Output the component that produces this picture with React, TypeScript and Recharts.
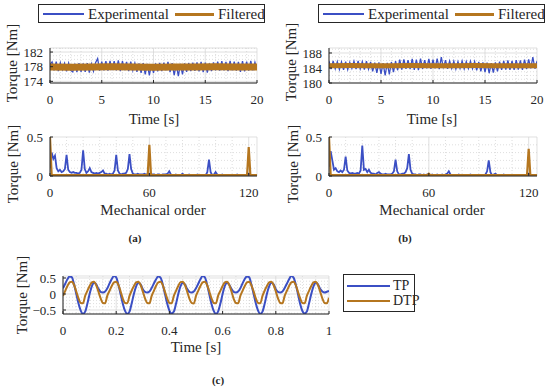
import React from "react";
import { LineChart, Line, XAxis, YAxis, CartesianGrid } from "recharts";

const BLUE = "#3b4fc4";
const ORANGE = "#b5761f";
const INK = "#262626";
const FONT = "Liberation Serif, Tinos, DejaVu Serif, serif";

// (a)/(b) top: torque vs time, sampled every 0.2 s
const timeS = Array.from({ length: 101 }, (_, i) => +(i * 0.2).toFixed(1));
const expA = [
  178.6, 179.3, 177.0, 179.4, 176.8, 179.1,
  177.2, 178.9, 176.7, 179.0, 177.0,
  176.6, 178.8, 176.5, 179.0, 176.6,
  178.9, 176.6, 179.0, 176.4, 178.8,
  176.8, 179.1, 180.2, 176.9, 179.4,
  177.0, 179.5, 176.9, 179.6, 177.1,
  179.5, 177.0, 179.7, 176.8, 179.5,
  177.1, 179.3, 176.8, 179.4, 177.0,
  179.0, 176.6, 178.9, 176.3, 179.0,
  175.9, 178.8, 175.6, 178.7, 176.3,
  178.9, 176.7, 179.0, 176.8, 179.1,
  177.0, 179.3, 176.5, 179.0, 175.7,
  178.7, 175.4, 178.8, 175.9, 178.9,
  176.6, 179.0, 176.8, 179.1, 176.9,
  179.2, 176.7, 179.3, 176.5, 179.1,
  176.4, 178.9, 176.8, 179.2, 177.0,
  179.4, 176.9, 179.5, 177.0, 179.3,
  176.8, 179.6, 177.0, 179.4, 176.9,
  179.3, 176.6, 179.5, 176.7, 179.4,
  176.9, 179.6, 177.0, 179.2, 177.2,
];
const expB = [
  185.8, 183.7, 185.9, 183.8, 185.7, 183.6,
  185.6, 183.5, 185.7, 183.6, 185.5,
  183.9, 185.8, 183.7, 185.9, 183.8,
  185.7, 183.6, 185.8, 183.7, 185.6,
  183.1, 185.4, 182.7, 185.5, 182.4,
  185.3, 182.0, 185.4, 182.3, 185.6,
  182.9, 185.8, 183.4, 186.2, 183.6,
  186.3, 183.8, 186.1, 183.7, 186.4,
  183.5, 186.2, 183.4, 186.5, 183.8,
  186.1, 183.9, 186.4, 183.8, 186.2,
  183.9, 186.5, 183.7, 186.9, 183.9,
  186.1, 183.8, 185.9, 183.9, 185.8,
  183.7, 185.7, 183.9, 185.9, 183.8,
  185.7, 183.9, 185.8, 183.8, 185.7,
  183.4, 185.6, 183.1, 185.5, 182.9,
  185.4, 182.6, 185.3, 182.8, 185.5,
  183.1, 185.7, 183.5, 185.9, 183.6,
  186.0, 183.5, 185.9, 183.5, 186.1,
  183.6, 186.0, 183.5, 186.2, 183.8,
  186.3, 183.9, 186.9, 183.8, 185.8,
];
const filtTime = [0, 2, 4, 6, 8, 10, 12, 14, 16, 18, 20];
const filtA = [177.9, 177.85, 177.9, 177.95, 177.9, 177.85, 177.9, 177.9, 177.95, 177.9, 177.9];
const filtB = [184.6, 184.65, 184.6, 184.6, 184.65, 184.6, 184.6, 184.65, 184.6, 184.6, 184.6];

// (a)/(b) bottom: spectrum vs mechanical order 0..125
const orders = Array.from({ length: 126 }, (_, i) => i);
const specExpA = [
  0.10, 0.30, 0.22, 0.26, 0.10, 0.06, 0.08, 0.05, 0.06, 0.09,
  0.27, 0.08, 0.05, 0.04, 0.05, 0.04, 0.04, 0.03, 0.04, 0.08,
  0.33, 0.09, 0.04, 0.06, 0.10, 0.05, 0.04, 0.03, 0.04, 0.03,
  0.04, 0.05, 0.07, 0.03, 0.03, 0.02, 0.03, 0.02, 0.03, 0.07,
  0.27, 0.07, 0.03, 0.02, 0.03, 0.03, 0.04, 0.09, 0.28, 0.09,
  0.03, 0.02, 0.02, 0.03, 0.02, 0.02, 0.02, 0.03, 0.02, 0.02,
  0.03, 0.02, 0.02, 0.02, 0.01, 0.02, 0.02, 0.01, 0.02, 0.02,
  0.02, 0.03, 0.06, 0.02, 0.01, 0.01, 0.02, 0.01, 0.01, 0.01,
  0.03, 0.01, 0.01, 0.01, 0.02, 0.01, 0.01, 0.01, 0.01, 0.02,
  0.01, 0.01, 0.01, 0.01, 0.01, 0.05, 0.21, 0.05, 0.01, 0.02,
  0.05, 0.02, 0.01, 0.01, 0.02, 0.01, 0.01, 0.01, 0.01, 0.01,
  0.01, 0.01, 0.01, 0.02, 0.01, 0.01, 0.01, 0.01, 0.01, 0.02,
  0.03, 0.01, 0.01, 0.01, 0.01, 0.01,
];
const specExpB = [
  0.12, 0.32, 0.20, 0.08, 0.10, 0.06, 0.05, 0.07, 0.05, 0.08,
  0.25, 0.07, 0.04, 0.03, 0.04, 0.03, 0.03, 0.04, 0.03, 0.07,
  0.39, 0.08, 0.09, 0.05, 0.08, 0.04, 0.03, 0.03, 0.02, 0.04,
  0.05, 0.03, 0.02, 0.02, 0.03, 0.02, 0.02, 0.02, 0.03, 0.06,
  0.21, 0.06, 0.02, 0.02, 0.03, 0.03, 0.05, 0.10, 0.28, 0.08,
  0.03, 0.02, 0.02, 0.01, 0.02, 0.02, 0.01, 0.02, 0.01, 0.02,
  0.02, 0.01, 0.02, 0.01, 0.01, 0.02, 0.01, 0.01, 0.02, 0.01,
  0.02, 0.03, 0.06, 0.02, 0.01, 0.01, 0.01, 0.01, 0.02, 0.01,
  0.01, 0.01, 0.01, 0.01, 0.01, 0.02, 0.01, 0.01, 0.01, 0.01,
  0.01, 0.01, 0.01, 0.01, 0.02, 0.06, 0.20, 0.05, 0.01, 0.02,
  0.03, 0.01, 0.01, 0.01, 0.01, 0.02, 0.01, 0.01, 0.01, 0.01,
  0.01, 0.01, 0.01, 0.01, 0.01, 0.01, 0.01, 0.01, 0.01, 0.02,
  0.03, 0.01, 0.01, 0.01, 0.01, 0.01,
];
const filtOrders = [0, 1, 59, 60, 61, 119, 120, 121, 125];
const specFiltA = [0.5, 0.01, 0.01, 0.4, 0.01, 0.01, 0.37, 0.01, 0.01];
const specFiltB = [0.5, 0.01, 0.01, 0.03, 0.01, 0.01, 0.35, 0.01, 0.01];

// (c): torque pulsation over 1 s, 120 steps
const timeC = Array.from({ length: 121 }, (_, i) => i / 120);
const tp = [
  0.18, 0.32, 0.46, 0.55, 0.52, 0.30, 0.00, -0.30, -0.52, -0.62, -0.55, -0.30, 0.00, 0.24, 0.35, 0.30, 0.16, 0.07, 0.05, 0.08,
  0.18, 0.33, 0.47, 0.56, 0.52, 0.29, -0.01, -0.31, -0.53, -0.62, -0.55, -0.29, 0.01, 0.24, 0.35, 0.30, 0.15, 0.07, 0.05, 0.08,
  0.19, 0.33, 0.46, 0.55, 0.51, 0.30, 0.00, -0.30, -0.52, -0.61, -0.55, -0.30, 0.00, 0.24, 0.34, 0.30, 0.16, 0.07, 0.05, 0.08,
  0.18, 0.32, 0.46, 0.56, 0.52, 0.30, -0.01, -0.31, -0.53, -0.62, -0.54, -0.30, 0.00, 0.25, 0.35, 0.29, 0.16, 0.07, 0.05, 0.08,
  0.18, 0.33, 0.47, 0.55, 0.52, 0.29, 0.00, -0.30, -0.52, -0.62, -0.55, -0.30, 0.01, 0.24, 0.35, 0.30, 0.15, 0.07, 0.05, 0.08,
  0.19, 0.32, 0.46, 0.56, 0.51, 0.30, 0.00, -0.31, -0.53, -0.61, -0.55, -0.29, 0.00, 0.24, 0.35, 0.30, 0.16, 0.08, 0.05, 0.07,
  0.10,
];
const dtp = [
  -0.06, 0.10, 0.25, 0.36, 0.38, 0.28, 0.08, -0.14, -0.28, -0.29,
  -0.06, 0.10, 0.25, 0.36, 0.38, 0.27, 0.07, -0.14, -0.28, -0.29,
  -0.05, 0.10, 0.25, 0.36, 0.38, 0.28, 0.08, -0.15, -0.28, -0.29,
  -0.06, 0.11, 0.25, 0.36, 0.38, 0.28, 0.08, -0.14, -0.28, -0.29,
  -0.06, 0.10, 0.26, 0.36, 0.38, 0.28, 0.07, -0.14, -0.28, -0.29,
  -0.06, 0.10, 0.25, 0.37, 0.38, 0.28, 0.08, -0.14, -0.28, -0.30,
  -0.06, 0.10, 0.25, 0.36, 0.38, 0.28, 0.08, -0.14, -0.28, -0.29,
  -0.05, 0.10, 0.25, 0.36, 0.38, 0.28, 0.08, -0.15, -0.28, -0.29,
  -0.06, 0.10, 0.25, 0.36, 0.38, 0.27, 0.08, -0.14, -0.28, -0.29,
  -0.06, 0.11, 0.25, 0.36, 0.38, 0.28, 0.08, -0.14, -0.28, -0.29,
  -0.06, 0.10, 0.25, 0.36, 0.38, 0.28, 0.07, -0.14, -0.28, -0.29,
  -0.06, 0.10, 0.25, 0.36, 0.38, 0.28, 0.08, -0.14, -0.28, -0.29,
  -0.12,
];

type Trace = { xs: number[]; ys: number[]; color: string; width: number; smooth?: boolean };

type PanelProps = {
  plot: [number, number, number, number]; // left, top, right, bottom (page px)
  xDomain: [number, number];
  xTicks: number[];
  xMinor: number[];
  yDomain: [number, number];
  yTicks: number[];
  yMinor: number[];
  traces: Trace[];
};

const PAD_L = 50;
const PAD_T = 6;
const PAD_R = 8;
const PAD_B = 30;

const fmt = (v: number) => (v < 0 ? "\u2212" + Math.abs(v) : String(v));

function Panel({ plot, xDomain, xTicks, xMinor, yDomain, yTicks, yMinor, traces }: PanelProps) {
  const [l, t, r, b] = plot;
  const tick = { fontSize: 13, fill: INK, fontFamily: FONT };
  return (
    <div style={{ position: "absolute", left: l - PAD_L, top: t - PAD_T }}>
      <LineChart
        width={r - l + PAD_L + PAD_R}
        height={b - t + PAD_T + PAD_B}
        margin={{ top: PAD_T, right: PAD_R, bottom: 0, left: 0 }}
      >
        <CartesianGrid
          stroke="#c8c8c8"
          strokeWidth={0.6}
          strokeDasharray="1 2"
          horizontalValues={yMinor}
          verticalValues={xMinor}
        />
        <CartesianGrid stroke="#d2d2d2" strokeWidth={0.7} />
        <XAxis
          type="number"
          dataKey="x"
          domain={xDomain}
          ticks={xTicks}
          interval={0}
          allowDataOverflow
          height={PAD_B}
          tick={tick}
          tickFormatter={fmt}
          tickSize={-3}
          tickMargin={15}
          stroke={INK}
        />
        <XAxis
          xAxisId="top"
          orientation="top"
          type="number"
          dataKey="x"
          domain={xDomain}
          ticks={xTicks}
          allowDataOverflow
          height={0}
          tick={false}
          tickSize={-3}
          stroke={INK}
        />
        <YAxis
          type="number"
          domain={yDomain}
          ticks={yTicks}
          interval={0}
          allowDataOverflow
          width={PAD_L}
          tick={tick}
          tickFormatter={fmt}
          tickSize={-3}
          tickMargin={10}
          stroke={INK}
        />
        <YAxis
          yAxisId="right"
          orientation="right"
          type="number"
          domain={yDomain}
          ticks={yTicks}
          allowDataOverflow
          width={0}
          tick={false}
          tickSize={-3}
          stroke={INK}
        />
        {traces.map((tr, i) => (
          <Line
            key={i}
            data={tr.xs.map((x, j) => ({ x, y: tr.ys[j] }))}
            dataKey="y"
            type={tr.smooth ? "monotone" : "linear"}
            stroke={tr.color}
            strokeWidth={tr.width}
            dot={false}
            activeDot={false}
            isAnimationActive={false}
          />
        ))}
      </LineChart>
    </div>
  );
}

function Text({ x, y, children, size = 15, rot = false, bold = false }: any) {
  return (
    <div
      style={{
        position: "absolute",
        left: x,
        top: y,
        transform: `translate(-50%, -50%)${rot ? " rotate(-90deg)" : ""}`,
        fontSize: size,
        fontWeight: bold ? 700 : 400,
        whiteSpace: "nowrap",
        color: INK,
        lineHeight: 1,
      }}
    >
      {children}
    </div>
  );
}

function Swatch({ x, y, len, color, w }: any) {
  return (
    <div style={{ position: "absolute", left: x, top: y - w / 2, width: len, height: w, background: color }} />
  );
}

function Label({ x, y, children, size = 15 }: any) {
  return (
    <div style={{ position: "absolute", left: x, top: y, transform: "translateY(-50%)", fontSize: size, lineHeight: 1, whiteSpace: "nowrap" }}>
      {children}
    </div>
  );
}

function TopLegend({ left }: { left: number }) {
  return (
    <div style={{ position: "absolute", left, top: 4, width: 227, height: 19, border: `1px solid ${INK}`, boxSizing: "border-box", background: "#fff" }}>
      <Swatch x={4} y={9} len={41} color={BLUE} w={2} />
      <Label x={49} y={9}>Experimental</Label>
      <Swatch x={136} y={9} len={39} color={ORANGE} w={3} />
      <Label x={179} y={9}>Filtered</Label>
    </div>
  );
}

const timeTicks = [0, 5, 10, 15, 20];
const timeMinor = [1, 2, 3, 4, 6, 7, 8, 9, 11, 12, 13, 14, 16, 17, 18, 19];
const orderTicks = [0, 60, 120];
const orderMinor = [10, 20, 30, 40, 50, 70, 80, 90, 100, 110];
const specTicks = [0, 0.5];
const specMinor = [0.1, 0.2, 0.3, 0.4];
const cTicks = [0, 0.2, 0.4, 0.6, 0.8, 1];
const cMinor = [0.05, 0.1, 0.15, 0.25, 0.3, 0.35, 0.45, 0.5, 0.55, 0.65, 0.7, 0.75, 0.85, 0.9, 0.95];
const cYTicks = [-0.5, 0, 0.5];
const cYMinor = [-0.6, -0.4, -0.3, -0.2, -0.1, 0.1, 0.2, 0.3, 0.4];

export default function App() {
  return (
    <div
      style={{
        position: "absolute",
        left: 0,
        top: 0,
        width: 550,
        height: 389,
        background: "#fff",
        fontFamily: FONT,
        color: INK,
        overflow: "hidden",
      }}
    >
      <TopLegend left={38} />
      <TopLegend left={318} />

      <Panel
        plot={[50, 48, 257, 83]}
        xDomain={[0, 20]}
        xTicks={timeTicks}
        xMinor={timeMinor}
        yDomain={[173.55, 183.1]}
        yTicks={[174, 178, 182]}
        yMinor={[175, 176, 177, 179, 180, 181, 183]}
        traces={[
          { xs: timeS, ys: expA, color: BLUE, width: 1.3 },
          { xs: filtTime, ys: filtA, color: ORANGE, width: 7 },
        ]}
      />
      <Panel
        plot={[329, 48, 537, 83]}
        xDomain={[0, 20]}
        xTicks={timeTicks}
        xMinor={timeMinor}
        yDomain={[180, 189.33]}
        yTicks={[180, 184, 188]}
        yMinor={[181, 182, 183, 185, 186, 187, 189]}
        traces={[
          { xs: timeS, ys: expB, color: BLUE, width: 1.3 },
          { xs: filtTime, ys: filtB, color: ORANGE, width: 5 },
        ]}
      />
      <Panel
        plot={[50, 137, 257, 176]}
        xDomain={[0, 125]}
        xTicks={orderTicks}
        xMinor={orderMinor}
        yDomain={[0, 0.5]}
        yTicks={specTicks}
        yMinor={specMinor}
        traces={[
          { xs: orders, ys: specExpA, color: BLUE, width: 1.8 },
          { xs: filtOrders, ys: specFiltA, color: ORANGE, width: 2.2 },
        ]}
      />
      <Panel
        plot={[329, 137, 537, 176]}
        xDomain={[0, 125]}
        xTicks={orderTicks}
        xMinor={orderMinor}
        yDomain={[0, 0.5]}
        yTicks={specTicks}
        yMinor={specMinor}
        traces={[
          { xs: orders, ys: specExpB, color: BLUE, width: 1.8 },
          { xs: filtOrders, ys: specFiltB, color: ORANGE, width: 2.2 },
        ]}
      />
      <Panel
        plot={[63, 276, 329, 314]}
        xDomain={[0, 1]}
        xTicks={cTicks}
        xMinor={cMinor}
        yDomain={[-0.625, 0.5625]}
        yTicks={cYTicks}
        yMinor={cYMinor}
        traces={[
          { xs: timeC, ys: tp, color: BLUE, width: 2, smooth: true },
          { xs: timeC, ys: dtp, color: ORANGE, width: 2, smooth: true },
        ]}
      />

      <Text x={12} y={63} rot>Torque [Nm]</Text>
      <Text x={291} y={62} rot>Torque [Nm]</Text>
      <Text x={13} y={164} rot>Torque [Nm]</Text>
      <Text x={293} y={164} rot>Torque [Nm]</Text>
      <Text x={22} y={295} rot>Torque [Nm]</Text>

      <Text x={154} y={119}>Time [s]</Text>
      <Text x={432} y={119}>Time [s]</Text>
      <Text x={153} y={210}>Mechanical order</Text>
      <Text x={432} y={210}>Mechanical order</Text>
      <Text x={196} y={347}>Time [s]</Text>

      <div style={{ position: "absolute", left: 343, top: 274, width: 72, height: 38, border: `1px solid ${INK}`, boxSizing: "border-box", background: "#fff" }}>
        <Swatch x={3} y={11} len={43} color={BLUE} w={2} />
        <Label x={49} y={11} size={14}>TP</Label>
        <Swatch x={3} y={26} len={43} color={ORANGE} w={2.5} />
        <Label x={49} y={26} size={14}>DTP</Label>
      </div>

      <Text x={135} y={238} size={11} bold>(a)</Text>
      <Text x={405} y={238} size={11} bold>(b)</Text>
      <Text x={218} y={380} size={11} bold>(c)</Text>
    </div>
  );
}
